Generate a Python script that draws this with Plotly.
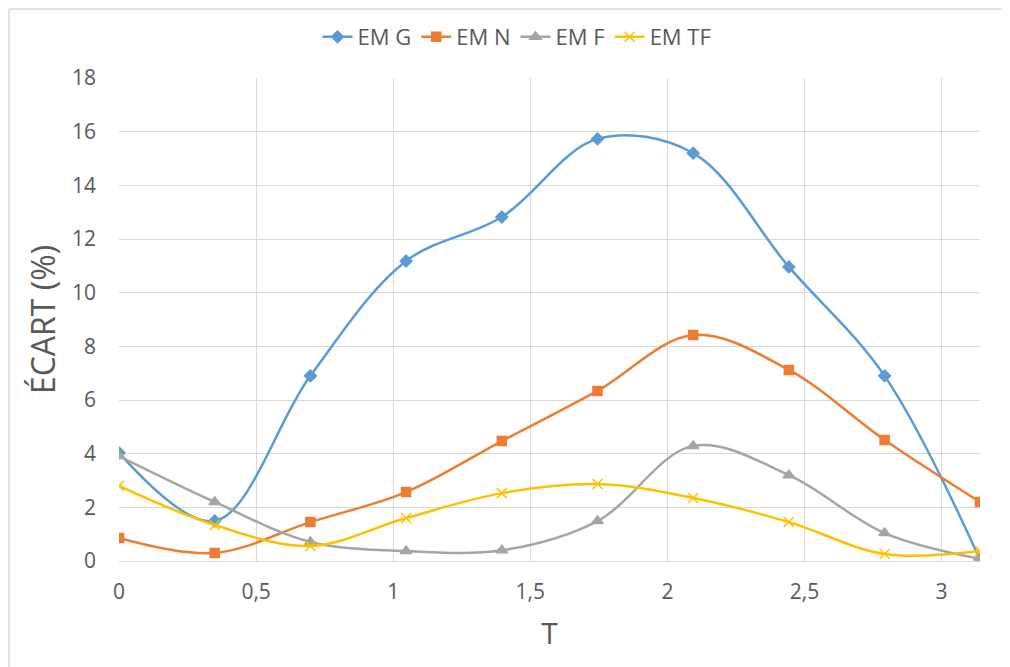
import plotly.graph_objects as go

T = [0, 0.349, 0.698, 1.047, 1.396, 1.745, 2.094, 2.443, 2.792, 3.14]
em_g = [4.03, 1.49, 6.9, 11.18, 12.82, 15.73, 15.2, 10.96, 6.9, 0.05]
em_n = [0.86, 0.3, 1.45, 2.57, 4.47, 6.34, 8.42, 7.12, 4.51, 2.2]
em_f = [3.91, 2.2, 0.71, 0.37, 0.4, 1.49, 4.29, 3.2, 1.04, 0.08]
em_tf = [2.8, 1.34, 0.56, 1.6, 2.53, 2.87, 2.35, 1.45, 0.26, 0.37]

series = [
    ("EM G", em_g, "#5B9BD5", "diamond", 9),
    ("EM N", em_n, "#ED7D31", "square", 9),
    ("EM F", em_f, "#A5A5A5", "triangle-up", 10),
    ("EM TF", em_tf, "#FFC000", "x-thin-open", 10),
]

fig = go.Figure()
for name, ys, color, sym, size in series:
    fig.add_trace(go.Scatter(
        x=T, y=ys, name=name, mode="lines+markers",
        line=dict(color=color, width=2.5, shape="spline", smoothing=1.0),
        marker=dict(symbol=sym, size=size, color=color,
                    line=dict(color=color, width=1.5)),
    ))

# page body adds an 8px offset; compensate so the plot area lands at 119..980 x 78..561
OFF = 8
L, R, TOP, B = 119 - OFF, 1010 - (980 - OFF), 78 - OFF, 667 - (561 - OFF)
W, H = 1010 - L - R, 667 - TOP - B

fig.update_layout(
    width=1010, height=667,
    paper_bgcolor="white", plot_bgcolor="white",
    margin=dict(l=L, r=R, t=TOP, b=B, autoexpand=False),
    font=dict(family="Open Sans, Liberation Sans, sans-serif", color="#595959", size=21),
    legend=dict(orientation="h", x=(517 - OFF - L) / W, xanchor="center",
                y=1 + 41 / H, yanchor="middle",
                font=dict(size=22, color="#595959"), tracegroupgap=0),
    xaxis=dict(
        range=[0, 3.14], tickmode="array",
        tickvals=[0, 0.5, 1, 1.5, 2, 2.5, 3],
        ticktext=["0", "0,5", "1", "1,5", "2", "2,5", "3"],
        showgrid=True, gridcolor="#D9D9D9", gridwidth=1,
        zeroline=False, showline=True, linecolor="#D9D9D9",
        ticks="", ticklabelstandoff=12, automargin=False,
        title=dict(text="T", font=dict(size=30, color="#595959"), standoff=18),
    ),
    yaxis=dict(
        range=[0, 18], dtick=2,
        showgrid=True, gridcolor="#D9D9D9", gridwidth=1,
        zeroline=False, showline=False, ticks="", ticklabelstandoff=22, automargin=False,
        title=dict(text="ÉCART (%)", font=dict(size=32, color="#595959"), standoff=6),
    ),
)
# chart frame: only the top and left edges are visible in the picture
fx0 = (9 - OFF - L) / W
fy1 = 1 + (78 - 9) / H
fig.add_shape(type="line", xref="paper", yref="paper", x0=fx0, x1=fx0 + 1.2,
              y0=fy1, y1=fy1, line=dict(color="#E3E3E3", width=2), layer="below")
fig.add_shape(type="line", xref="paper", yref="paper", x0=fx0, x1=fx0,
              y0=fy1, y1=-0.3, line=dict(color="#E3E3E3", width=2), layer="below")

fig.write_html("out.html")
